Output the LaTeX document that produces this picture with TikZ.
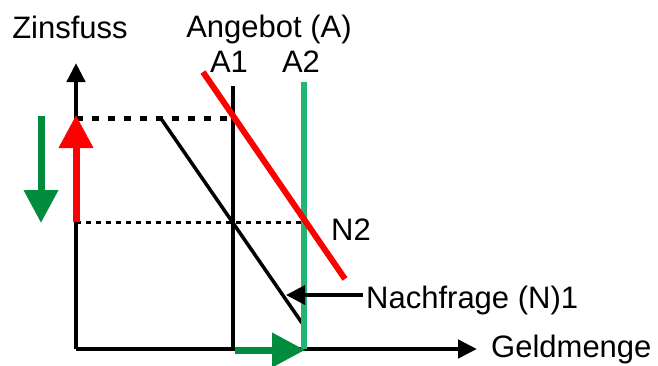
\documentclass[tikz,border=0pt]{standalone}
\usepackage{fontspec}
\setmainfont{Liberation Sans}
\usepackage{tikz}
\usetikzlibrary{arrows.meta}

\definecolor{lgreen}{RGB}{34,181,115}
\definecolor{dgreen}{RGB}{0,140,60}

\begin{document}
\begin{tikzpicture}[x=1pt, y=-1pt,
  lbl/.style={inner sep=0pt, anchor=base, font=\fontsize{31}{37}\selectfont},
  axis/.style={line width=4.5pt, -{Triangle[length=19pt, width=18pt]}},
  move/.style={line width=7pt, -{Triangle[length=33pt, width=33pt]}},
  hint/.style={line width=3.5pt, -{Triangle[length=19pt, width=19pt]}}
]
\useasboundingbox (0,0) rectangle (658,365);

% points of the chart
\coordinate (O) at (76,349);
\coordinate (ytip) at (76,63);
\coordinate (xtip) at (477,349);
\coordinate (a1top) at (233,86);
\coordinate (a1bot) at (233,349);
\coordinate (a2top) at (304,82);
\coordinate (a2bot) at (304,349);
\coordinate (n1top) at (162,120);
\coordinate (n1bot) at (302,323);
\coordinate (n2top) at (203,72);
\coordinate (n2bot) at (345,279);
\coordinate (hiy) at (76,118);
\coordinate (hia1) at (233,118);
\coordinate (loy) at (76,222);
\coordinate (loa2) at (304,222);
\coordinate (hinta) at (363,295);
\coordinate (hintb) at (286,295);

% labels
\node[lbl] (zins) at (70,38) {Zinsfuss};
\node[lbl] (ang) at (269,37) {Angebot (A)};
\node[lbl] (a1) at (229,72) {A1};
\node[lbl] (a2) at (301,72) {A2};
\node[lbl] (n2) at (351,240) {N2};
\node[lbl, anchor=base west] (nach) at (366,308) {Nachfrage (N)1};
\node[lbl, anchor=base west] (geld) at (491,357) {Geldmenge};

% axes
\draw[axis] (O) -- (ytip);
\draw[axis] (O) -- (xtip);

% supply A1, rates
\draw[line width=4pt] (a1top) -- (a1bot);
\draw[line width=5pt, dash pattern=on 7pt off 9pt] (hiy) -- (hia1);
\draw[line width=3pt, dash pattern=on 5pt off 5pt] (loy) -- (loa2);
\draw[line width=3.5pt] (n1top) -- (n1bot);

% supply A2, demand N2
\draw[lgreen, line width=6pt] (a2top) -- (a2bot);
\draw[red, line width=6pt] (n2top) -- (n2bot);

% shifts
\draw[move, red] (loy) -- (76,115);
\draw[move, dgreen] (41,116) -- (41,223);
\draw[move, dgreen] (235,350) -- (305,350);
\draw[hint] (hinta) -- (hintb);
\end{tikzpicture}
\end{document}
